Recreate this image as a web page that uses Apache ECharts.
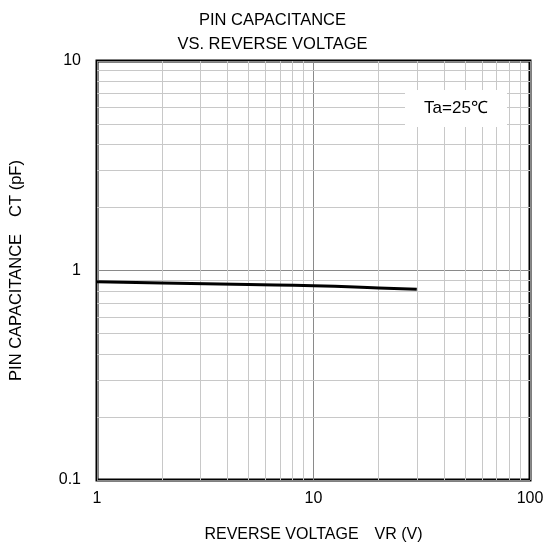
<!DOCTYPE html>
<html>
<head>
<meta charset="utf-8">
<script src="https://cdn.jsdelivr.net/npm/echarts@6/dist/echarts.min.js"></script>
<style>html,body{margin:0;padding:0;background:#fff}#c{width:545px;height:546px}</style>
</head>
<body>
<div id="c"></div>
<script>
// Data
const voltage = [1, 2, 5, 10, 20, 30];
const capacitance = [0.884, 0.872, 0.857, 0.846, 0.826, 0.813];
const xMinorGrid = [2, 3, 4, 5, 6, 7, 8, 9, 20, 30, 40, 50, 60, 70, 80, 90];
const yMinorGrid = [0.2, 0.3, 0.4, 0.5, 0.6, 0.7, 0.8, 0.9, 2, 3, 4, 5, 6, 7, 8, 9];
const titleLines = ['PIN CAPACITANCE', 'VS. REVERSE VOLTAGE'];
const xName = 'REVERSE VOLTAGE\u3000VR (V)';
const yName = 'PIN CAPACITANCE\u3000CT (pF)';
const noteText = 'Ta=25\u2103';

const font = '"Liberation Sans", Arial, sans-serif';
const chart = echarts.init(document.getElementById('c'));
const minorLines = xMinorGrid.map(v => ({ xAxis: v })).concat(yMinorGrid.map(v => ({ yAxis: v })));

chart.setOption({
  animation: false,
  backgroundColor: '#fff',
  textStyle: { fontFamily: font },
  title: {
    text: titleLines.join('\n'),
    left: 'center', top: 3,
    textStyle: { fontSize: 16.5, fontWeight: 'normal', color: '#000', lineHeight: 24, fontFamily: font }
  },
  grid: { left: 97, right: 15, top: 61, bottom: 66, outerBoundsMode: 'none', show: true, borderColor: '#000', borderWidth: 3, backgroundColor: 'transparent' },
  xAxis: {
    type: 'log', logBase: 10, min: 1, max: 100,
    name: xName, nameLocation: 'middle', nameGap: 47,
    nameTextStyle: { fontSize: 16, color: '#000', fontFamily: font },
    axisLine: { show: false }, axisTick: { show: false },
    axisLabel: { fontSize: 16, color: '#000', margin: 11, fontFamily: font },
    splitLine: { show: true, lineStyle: { color: '#8a8a8a', width: 1 } }
  },
  yAxis: {
    type: 'log', logBase: 10, min: 0.1, max: 10,
    name: yName, nameLocation: 'middle', nameGap: 72,
    nameTextStyle: { fontSize: 16.5, color: '#000', fontFamily: font },
    axisLine: { show: false }, axisTick: { show: false },
    axisLabel: { fontSize: 16, color: '#000', margin: 16, fontFamily: font },
    splitLine: { show: true, lineStyle: { color: '#8a8a8a', width: 1 } }
  },
  graphic: [
    { type: 'rect', z: 100, shape: { x: 405, y: 90, width: 102, height: 37 }, style: { fill: '#fff' } },
    { type: 'text', z: 101, x: 456, y: 108, style: { text: noteText, fontSize: 17, fill: '#000', align: 'center', verticalAlign: 'middle', fontFamily: font } }
  ],
  series: [
    {
      type: 'line', data: [], z: 1, silent: true,
      markLine: {
        silent: true, symbol: 'none', animation: false,
        label: { show: false },
        lineStyle: { color: '#c8c8c8', width: 1, type: 'solid' },
        data: minorLines
      }
    },
    {
      type: 'line', z: 5, showSymbol: false, smooth: true,
      data: voltage.map((v, i) => [v, capacitance[i]]),
      lineStyle: { color: '#000', width: 3 }
    }
  ]
});
</script>
</body>
</html>
